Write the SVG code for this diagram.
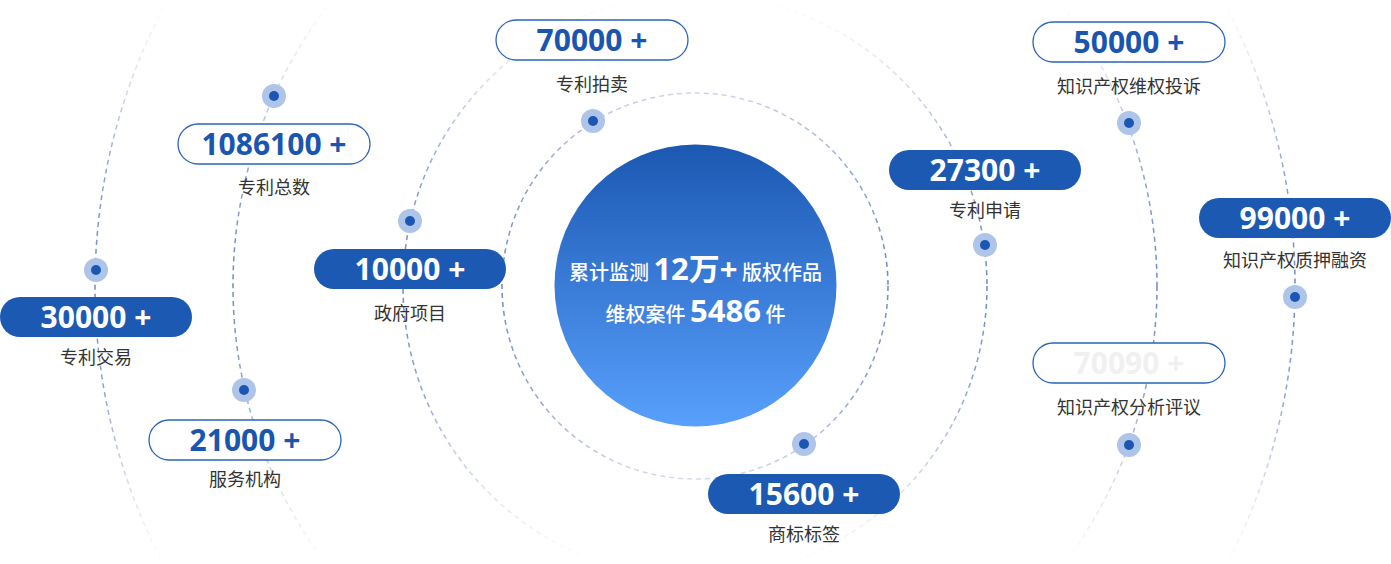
<svg xmlns="http://www.w3.org/2000/svg" width="1391" height="564" viewBox="0 0 1391 564">
<defs>
<linearGradient id="fade" gradientUnits="userSpaceOnUse" x1="0" y1="0" x2="0" y2="564">
<stop offset="0" stop-color="#6f87c3" stop-opacity="0"/>
<stop offset="0.12" stop-color="#6f87c3" stop-opacity="0.22"/>
<stop offset="0.3" stop-color="#6f87c3" stop-opacity="0.75"/>
<stop offset="0.5" stop-color="#6f87c3" stop-opacity="1"/>
<stop offset="0.7" stop-color="#6f87c3" stop-opacity="0.75"/>
<stop offset="0.88" stop-color="#6f87c3" stop-opacity="0.22"/>
<stop offset="1" stop-color="#6f87c3" stop-opacity="0"/>
</linearGradient>
<linearGradient id="core" x1="0" y1="0" x2="0" y2="1">
<stop offset="0" stop-color="#1b58b2"/>
<stop offset="1" stop-color="#58a0fc"/>
</linearGradient>
</defs>
<style>
.ring{fill:none;stroke:url(#fade);stroke-width:1.5;stroke-dasharray:5 4}
.fill{fill:#1b59b3}
.line{fill:#fff;stroke:#2b63bd;stroke-width:1.3}
.num{font-family:"Noto Sans","Noto Sans CJK SC",sans-serif;font-size:30px;font-weight:700;text-anchor:middle}
.num.w{fill:#fff}
.num.b{fill:#1a55b0}
.num.g{fill:#f0f0f0}
.lab{font-family:"Noto Sans CJK SC","Noto Sans",sans-serif;font-size:18px;fill:#333;text-anchor:middle}
.halo{fill:#aec4e8}
.pt{fill:#1b57b2}
.ct{font-family:"Noto Sans CJK SC","Noto Sans",sans-serif;font-size:20px;font-weight:500;fill:#fff;text-anchor:middle}
.cn{font-family:"Noto Sans","Noto Sans CJK SC",sans-serif;font-size:31px;font-weight:700}
</style>
<rect width="1391" height="564" fill="#fff"/>
<g id="connectors">
<circle class="ring" cx="695" cy="286" r="193"/>
<circle class="ring" cx="695" cy="286" r="292"/>
<circle class="ring" cx="695" cy="286" r="462"/>
<circle class="ring" cx="695" cy="286" r="600"/>
</g>
<g id="center">
<circle cx="695.5" cy="285.5" r="141" fill="url(#core)"/>
<text class="ct" x="695.5" y="280">累计监测 <tspan class="cn">12万+</tspan> 版权作品</text>
<text class="ct" x="695.5" y="322">维权案件 <tspan class="cn">5486</tspan> 件</text>
</g>
<g id="n70000">
<circle class="halo" cx="593" cy="121" r="12"/><circle class="pt" cx="593" cy="121" r="5"/>
<rect class="line" x="496" y="20" width="192" height="40" rx="20"/>
<text class="num b" x="592" y="51">70000 +</text>
<text class="lab" x="592" y="91">专利拍卖</text>
</g>
<g id="n1086100">
<circle class="halo" cx="274" cy="96" r="12"/><circle class="pt" cx="274" cy="96" r="5"/>
<rect class="line" x="178" y="124" width="192" height="40" rx="20"/>
<text class="num b" x="274" y="155">1086100 +</text>
<text class="lab" x="274" y="194">专利总数</text>
</g>
<g id="n10000">
<circle class="halo" cx="410" cy="221" r="12"/><circle class="pt" cx="410" cy="221" r="5"/>
<rect class="fill" x="314" y="249" width="192" height="40" rx="20"/>
<text class="num w" x="410" y="280">10000 +</text>
<text class="lab" x="410" y="320">政府项目</text>
</g>
<g id="n30000">
<circle class="halo" cx="96" cy="270" r="12"/><circle class="pt" cx="96" cy="270" r="5"/>
<rect class="fill" x="0" y="297" width="192" height="40" rx="20"/>
<text class="num w" x="96" y="328">30000 +</text>
<text class="lab" x="96" y="364">专利交易</text>
</g>
<g id="n21000">
<circle class="halo" cx="244" cy="390" r="12"/><circle class="pt" cx="244" cy="390" r="5"/>
<rect class="line" x="149" y="420" width="192" height="40" rx="20"/>
<text class="num b" x="245" y="451">21000 +</text>
<text class="lab" x="245" y="486">服务机构</text>
</g>
<g id="n15600">
<circle class="halo" cx="804" cy="444" r="12"/><circle class="pt" cx="804" cy="444" r="5"/>
<rect class="fill" x="708" y="474" width="192" height="40" rx="20"/>
<text class="num w" x="804" y="505">15600 +</text>
<text class="lab" x="804" y="541">商标标签</text>
</g>
<g id="n27300">
<circle class="halo" cx="985" cy="245" r="12"/><circle class="pt" cx="985" cy="245" r="5"/>
<rect class="fill" x="889" y="150" width="192" height="40" rx="20"/>
<text class="num w" x="985" y="181">27300 +</text>
<text class="lab" x="985" y="217">专利申请</text>
</g>
<g id="n50000">
<circle class="halo" cx="1129" cy="123" r="12"/><circle class="pt" cx="1129" cy="123" r="5"/>
<rect class="line" x="1033" y="22" width="192" height="40" rx="20"/>
<text class="num b" x="1129" y="53">50000 +</text>
<text class="lab" x="1129" y="93">知识产权维权投诉</text>
</g>
<g id="n99000">
<circle class="halo" cx="1295" cy="297" r="12"/><circle class="pt" cx="1295" cy="297" r="5"/>
<rect class="fill" x="1199" y="198" width="192" height="40" rx="20"/>
<text class="num w" x="1295" y="229">99000 +</text>
<text class="lab" x="1295" y="267">知识产权质押融资</text>
</g>
<g id="n70090">
<circle class="halo" cx="1129" cy="445" r="12"/><circle class="pt" cx="1129" cy="445" r="5"/>
<rect class="line" x="1033" y="343" width="192" height="40" rx="20"/>
<text class="num g" x="1129" y="374">70090 +</text>
<text class="lab" x="1129" y="414">知识产权分析评议</text>
</g>
</svg>
